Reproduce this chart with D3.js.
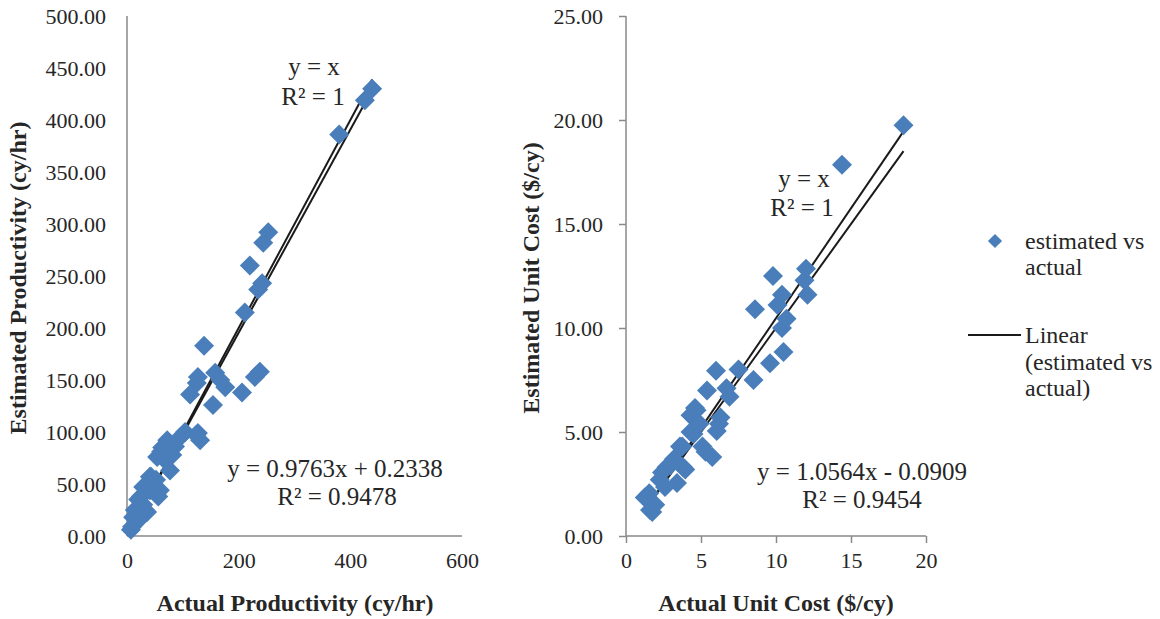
<!DOCTYPE html>
<html>
    <head>
        <meta charset="utf-8">
        <script src="https://d3js.org/d3.v7.min.js"></script>
        <style>
            body { margin: 0; background: #fff; }
            text { font-family: "Liberation Serif", "Times New Roman", serif; fill: #262626; }
            .axis path, .axis line { stroke: #898989; stroke-width: 1.5px; }
            .axis text { font-size: 22px; }
            .title { font-size: 24px; font-weight: bold; }
            .eq { font-size: 25px; }
            .legend { font-size: 24px; }
            .trend { fill: none; stroke: #1a1a1a; stroke-width: 2px; }
            .pt { fill: #4a7ebb; }
        </style>
    </head>
    <body>
        <script>
            // left panel: productivity (cy/hr), [actual, estimated]
            var prodPoints = [
                [439, 430], [426, 419], [380, 386], [253, 292], [244, 282], [220, 260],
                [242, 243], [235, 237], [211, 215], [138, 183], [238, 158], [229, 153],
                [127, 153], [158, 157], [125, 147], [176, 143], [113, 136], [206, 138],
                [154, 126], [167, 150], [127, 99], [131, 92], [72, 92], [63, 85],
                [86, 86], [95, 95], [54, 76], [41, 57], [59, 44], [29, 47],
                [20, 35], [36, 23], [11, 18], [9, 9], [7, 6], [124, 97],
                [73, 89], [61, 81], [43, 57], [77, 63], [56, 38], [25, 38],
                [32, 25], [14, 25], [20, 15], [41, 44], [52, 54], [29, 30],
                [68, 73], [104, 100], [81, 78]
            ];
            // right panel: unit cost ($/cy), [actual, estimated]
            var costPoints = [
                [18.5, 19.75], [14.4, 17.85], [9.8, 12.5], [12.0, 12.85], [11.9, 12.3], [12.1, 11.6],
                [10.4, 11.6], [10.1, 11.1], [8.6, 10.9], [10.7, 10.45], [10.4, 10.0], [10.5, 8.85],
                [9.6, 8.3], [7.5, 8.0], [6.0, 7.95], [8.5, 7.5], [6.7, 7.1], [5.4, 7.0],
                [4.6, 6.15], [6.3, 5.7], [4.3, 5.8], [4.7, 6.05], [6.2, 5.4], [4.3, 5.0],
                [5.3, 4.05], [3.75, 4.3], [2.95, 3.4], [3.95, 3.2], [2.4, 3.05], [2.6, 2.35],
                [1.55, 2.05], [1.25, 1.85], [1.95, 1.5], [1.75, 1.15], [5.75, 3.8], [6.9, 6.7],
                [6.05, 5.05], [5.1, 4.3], [3.6, 4.3], [3.8, 3.3], [2.7, 3.3], [3.4, 2.55],
                [2.25, 2.7], [1.4, 1.9], [1.6, 1.25], [4.5, 4.9], [3.2, 3.7], [4.9, 5.4]
            ];

            var prodXTicks = [0, 200, 400, 600];
            var prodYTicks = [0, 50, 100, 150, 200, 250, 300, 350, 400, 450, 500];
            var costXTicks = [0, 5, 10, 15, 20];
            var costYTicks = [0, 5, 10, 15, 20, 25];

            // trendlines: [slope, intercept]
            var prodFit = [0.9763, 0.2338];
            var costFit = [1.0564, -0.0909];
            var identity = [1, 0];

            var legendLabels = [["estimated vs", "actual"], ["Linear", "(estimated vs", "actual)"]];

            var svg = d3.select("body").append("svg")
                .attr("width", 1160)
                .attr("height", 619);

            function panel(opt) {
                var x = d3.scaleLinear().domain(opt.xDomain).range([opt.left, opt.right]);
                var y = d3.scaleLinear().domain(opt.yDomain).range([536, 16]);
                var g = svg.append("g");

                g.append("g").attr("class", "axis")
                    .attr("transform", "translate(0,536)")
                    .call(d3.axisBottom(x).tickValues(opt.xTicks).tickFormat(d3.format("d"))
                        .tickSizeInner(opt.tick).tickSizeOuter(0).tickPadding(opt.tick ? 9 : 16));
                g.append("g").attr("class", "axis")
                    .attr("transform", "translate(" + opt.left + ",0)")
                    .call(d3.axisLeft(y).tickValues(opt.yTicks).tickFormat(d3.format(".2f"))
                        .tickSizeInner(opt.tick).tickSizeOuter(0).tickPadding(opt.tick ? 16 : 21));
                g.selectAll(".axis .domain").attr("d", function() {
                    return d3.select(this.parentNode).attr("transform").indexOf(",536") > 0
                        ? "M" + opt.left + ",0H" + opt.right
                        : "M0,536V16";
                });

                var ext = d3.extent(opt.points, function(d) { return d[0]; });
                [identity, opt.fit].forEach(function(f) {
                    g.append("path").attr("class", "trend")
                        .attr("d", d3.line()
                            .x(function(v) { return x(v); })
                            .y(function(v) { return y(f[0] * v + f[1]); })(ext));
                });

                var diamond = d3.symbol().type(d3.symbolSquare).size(200);
                g.selectAll(".pt").data(opt.points).enter().append("path")
                    .attr("class", "pt")
                    .attr("d", diamond)
                    .attr("transform", function(d) {
                        return "translate(" + x(d[0]) + "," + y(d[1]) + ") rotate(45)";
                    });

                g.append("text").attr("class", "title")
                    .attr("x", opt.xTitleX).attr("y", 611)
                    .attr("text-anchor", "middle").text(opt.xTitle);
                g.append("text").attr("class", "title")
                    .attr("transform", "translate(" + opt.yTitleX + ",278) rotate(-90)")
                    .attr("text-anchor", "middle").text(opt.yTitle);

                opt.labels.forEach(function(l) {
                    g.append("text").attr("class", "eq")
                        .attr("x", l[0]).attr("y", l[1])
                        .attr("text-anchor", "middle").text(l[2]);
                });
            }

            panel({
                points: prodPoints, xDomain: [0, 600], yDomain: [0, 500],
                xTicks: prodXTicks, yTicks: prodYTicks, left: 127, right: 462, tick: 0,
                fit: prodFit, xTitle: "Actual Productivity (cy/hr)", xTitleX: 295,
                yTitle: "Estimated Productivity (cy/hr)", yTitleX: 26,
                labels: [[314, 75, "y = x"], [313, 105, "R\u00b2 = 1"],
                         [335, 477, "y = 0.9763x + 0.2338"], [337, 505, "R\u00b2 = 0.9478"]]
            });
            panel({
                points: costPoints, xDomain: [0, 20], yDomain: [0, 25],
                xTicks: costXTicks, yTicks: costYTicks, left: 626, right: 926, tick: 7,
                fit: costFit, xTitle: "Actual Unit Cost ($/cy)", xTitleX: 776,
                yTitle: "Estimated Unit Cost ($/cy)", yTitleX: 539,
                labels: [[804, 187, "y = x"], [802, 216, "R\u00b2 = 1"],
                         [862, 480, "y = 1.0564x - 0.0909"], [862, 508, "R\u00b2 = 0.9454"]]
            });

            // legend
            var lg = svg.append("g");
            lg.append("path").attr("class", "pt")
                .attr("d", d3.symbol().type(d3.symbolSquare).size(100))
                .attr("transform", "translate(995,241) rotate(45)");
            lg.append("line").attr("x1", 968).attr("x2", 1021).attr("y1", 335).attr("y2", 335)
                .attr("stroke", "#1a1a1a").attr("stroke-width", 2);
            var rows = [[249, 275], [343, 370, 396]];
            legendLabels.forEach(function(lines, i) {
                lines.forEach(function(t, j) {
                    lg.append("text").attr("class", "legend")
                        .attr("x", 1025).attr("y", rows[i][j]).text(t);
                });
            });
        </script>
    </body>
</html>
